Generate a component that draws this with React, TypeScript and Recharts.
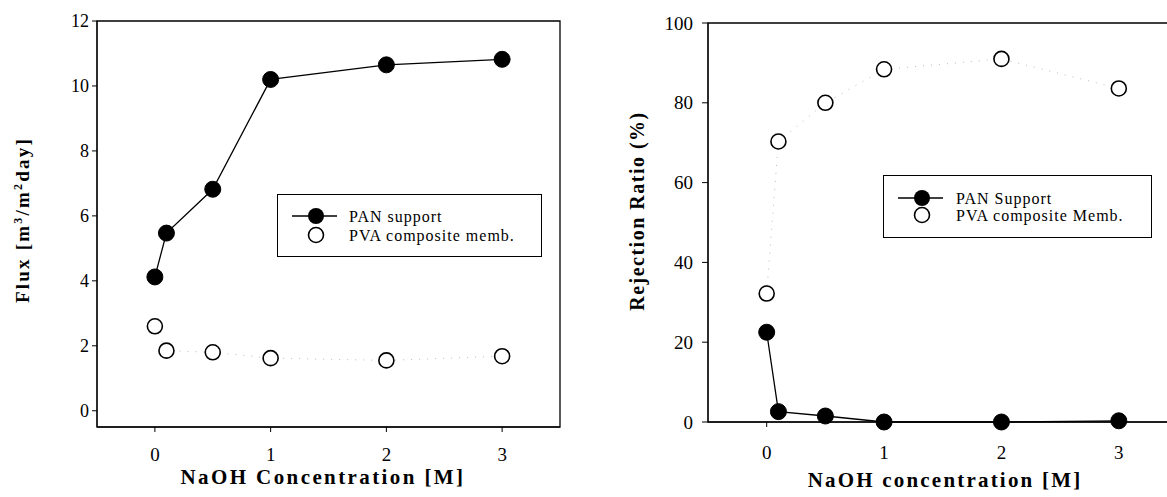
import React from "react";
import { ComposedChart, Scatter, XAxis, YAxis, ReferenceArea, Legend, Label } from "recharts";

const concentrations = [0, 0.1, 0.5, 1, 2, 3];
const fluxPAN = [4.12, 5.47, 6.82, 10.2, 10.65, 10.82];
const fluxPVA = [2.6, 1.85, 1.8, 1.62, 1.55, 1.68];
const rejPAN = [22.5, 2.6, 1.5, 0, 0, 0.3];
const rejPVA = [32.2, 70.3, 80.0, 88.4, 91.0, 83.6];

const xTicks = [0, 1, 2, 3];
const fluxTicks = [0, 2, 4, 6, 8, 10, 12];
const rejTicks = [0, 20, 40, 60, 80, 100];

const leftNames = ["PAN support", "PVA composite memb."];
const rightNames = ["PAN Support", "PVA composite Memb."];

const FONT = "'Liberation Serif', 'Times New Roman', 'DejaVu Serif', serif";

const toPoints = (xs: number[], ys: number[]) => xs.map((x, i) => ({ x, y: ys[i] }));

const FilledDot = (p: any) => <circle cx={p.cx} cy={p.cy} r={8} fill="#000" stroke="#000" />;
const OpenDot = (p: any) => <circle cx={p.cx} cy={p.cy} r={7.5} fill="#fff" stroke="#000" strokeWidth={1.6} />;

const makeXTick = (size: number) => (p: any) => (
  <text x={p.x} y={p.y} dy="0.71em" textAnchor="middle" fontFamily={FONT} fontSize={size} fill="#000">
    {p.payload.value}
  </text>
);
const makeYTick = (size: number) => (p: any) => (
  <text x={p.x} y={p.y} dy="0.35em" textAnchor="end" fontFamily={FONT} fontSize={size} fill="#000">
    {p.payload.value}
  </text>
);

const LegendBox = ({ names, width, height, gap, textX }: any) => (
  <div style={{ width, height, border: "1px solid #000", boxSizing: "border-box", background: "#fff" }}>
    <svg width={width - 2} height={height - 2} style={{ display: "block", fontFamily: FONT }}>
      <line x1={14} x2={59} y1={height / 2 - gap / 2 - 1} y2={height / 2 - gap / 2 - 1} stroke="#000" strokeWidth={1.3} />
      <circle cx={38} cy={height / 2 - gap / 2 - 1} r={8} fill="#000" />
      <circle cx={38} cy={height / 2 + gap / 2 - 1} r={7.5} fill="#fff" stroke="#000" strokeWidth={1.6} />
      <text x={textX} y={height / 2 - gap / 2 - 1} dy="0.35em" fontFamily={FONT} fontSize={16} letterSpacing={1}>{names[0]}</text>
      <text x={textX} y={height / 2 + gap / 2 - 1} dy="0.35em" fontFamily={FONT} fontSize={16} letterSpacing={1}>{names[1]}</text>
    </svg>
  </div>
);

export default function App() {
  const fp = toPoints(concentrations, fluxPAN);
  const fv = toPoints(concentrations, fluxPVA);
  const rp = toPoints(concentrations, rejPAN);
  const rv = toPoints(concentrations, rejPVA);
  return (
    <div style={{ position: "absolute", left: 0, top: 0, width: 1167, height: 497, overflow: "hidden", background: "#fff", fontFamily: FONT }}>
      <div style={{ position: "absolute", left: 0, top: 0 }}>
        <ComposedChart width={580} height={497} margin={{ top: 21, right: 20, bottom: 40, left: 37 }} style={{ fontFamily: FONT }}>
          <XAxis
            type="number"
            dataKey="x"
            domain={[-0.5, 3.5]}
            ticks={xTicks}
            tickSize={5}
            tickMargin={16}
            height={30}
            stroke="#000"
            tick={makeXTick(19)}
          >
            <Label
              content={() => (
                <text x={323} y={477} dy="0.35em" textAnchor="middle" fontFamily={FONT} fontSize={21} fontWeight="bold" letterSpacing={2.4}>
                  NaOH Concentration [M]
                </text>
              )}
            />
          </XAxis>
          <YAxis
            type="number"
            dataKey="y"
            domain={[-0.5, 12]}
            ticks={fluxTicks}
            tickSize={5}
            tickMargin={3}
            width={60}
            stroke="#000"
            tick={makeYTick(18)}
          >
            <Label
              content={() => (
                <text x={22} y={220} dy="0.35em" textAnchor="middle" transform="rotate(-90 22 220)" fontFamily={FONT} fontSize={19} fontWeight="bold" letterSpacing={2.2}>
                  Flux [m<tspan dy={-7} fontSize={12}>3</tspan><tspan dy={7}>/m</tspan><tspan dy={-7} fontSize={12}>2</tspan><tspan dy={7}>day]</tspan>
                </text>
              )}
            />
          </YAxis>
          <ReferenceArea x1={-0.5} x2={3.5} y1={-0.5} y2={12} fill="none" stroke="#000" strokeWidth={1.3} fillOpacity={0} />
          <Scatter
            name={leftNames[1]}
            data={fv}
            line={{ stroke: "#bbb", strokeWidth: 1, strokeDasharray: "1 7" }}
            shape={OpenDot}
            isAnimationActive={false}
          />
          <Scatter
            name={leftNames[0]}
            data={fp}
            line={{ stroke: "#000", strokeWidth: 1.3 }}
            shape={FilledDot}
            isAnimationActive={false}
          />
          <Legend
            layout="horizontal"
            verticalAlign="middle"
            align="center"
            wrapperStyle={{ position: "absolute", left: 277, top: 194, width: 265, height: 63 }}
            content={() => <LegendBox names={leftNames} width={265} height={63} gap={19} textX={71} />}
          />
        </ComposedChart>
      </div>
      <div style={{ position: "absolute", left: 580, top: 0 }}>
        <ComposedChart width={600} height={497} margin={{ top: 23, right: 2.5, bottom: 45, left: 68 }} style={{ fontFamily: FONT }}>
          <XAxis
            type="number"
            dataKey="x"
            domain={[-0.5, 3.5]}
            ticks={xTicks}
            tickSize={5}
            tickMargin={19}
            height={30}
            stroke="#000"
            tick={makeXTick(19)}
          >
            <Label
              content={() => (
                <text x={365} y={480} dy="0.35em" textAnchor="middle" fontFamily={FONT} fontSize={21} fontWeight="bold" letterSpacing={2.2}>
                  NaOH concentration [M]
                </text>
              )}
            />
          </XAxis>
          <YAxis
            type="number"
            dataKey="y"
            domain={[0, 100]}
            ticks={rejTicks}
            tickSize={6}
            tickMargin={9}
            width={60}
            stroke="#000"
            tick={makeYTick(19)}
          >
            <Label
              content={() => (
                <text x={57} y={211} dy="0.35em" textAnchor="middle" transform="rotate(-90 57 211)" fontFamily={FONT} fontSize={20} fontWeight="bold" letterSpacing={1.5}>
                  Rejection Ratio (%)
                </text>
              )}
            />
          </YAxis>
          <ReferenceArea x1={-0.5} x2={3.5} y1={0} y2={100} fill="none" stroke="#000" strokeWidth={1.3} fillOpacity={0} />
          <Scatter
            name={rightNames[1]}
            data={rv}
            line={{ stroke: "#bbb", strokeWidth: 1, strokeDasharray: "1 7" }}
            shape={OpenDot}
            isAnimationActive={false}
          />
          <Scatter
            name={rightNames[0]}
            data={rp}
            line={{ stroke: "#000", strokeWidth: 1.3 }}
            shape={FilledDot}
            isAnimationActive={false}
          />
          <Legend
            layout="horizontal"
            verticalAlign="middle"
            align="center"
            wrapperStyle={{ position: "absolute", left: 303, top: 175, width: 269, height: 63 }}
            content={() => <LegendBox names={rightNames} width={269} height={63} gap={17} textX={72} />}
          />
        </ComposedChart>
      </div>
    </div>
  );
}
